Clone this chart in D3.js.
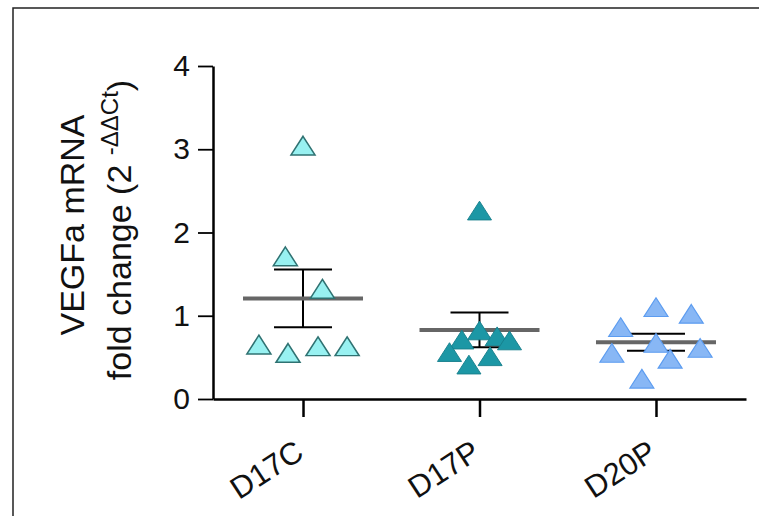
<!DOCTYPE html>
<html>
<head>
<meta charset="utf-8">
<script src="https://cdn.jsdelivr.net/npm/d3@7"></script>
<style>
  body { margin: 0; background: #fff; }
  svg { display: block; font-family: Arial, "Liberation Sans", sans-serif; }
</style>
</head>
<body>
<svg id="chart" width="759" height="516"></svg>
<script>
// groups along the x axis
const categories = ["D17C", "D17P", "D20P"];
const yTicks = [0, 1, 2, 3, 4];

// fold change values per animal
const d17c = [3.03, 1.70, 1.31, 0.64, 0.54, 0.62, 0.62];
const d17p = [2.25, 0.81, 0.70, 0.74, 0.69, 0.55, 0.50, 0.40];
const d20p = [1.09, 1.01, 0.85, 0.66, 0.54, 0.60, 0.47, 0.23];

// horizontal scatter of each point, in units of category step
const d17cJitter = [0, -0.10, 0.11, -0.25, -0.085, 0.085, 0.25];
const d17pJitter = [0, 0, -0.10, 0.10, 0.17, -0.17, 0.06, -0.06];
const d20pJitter = [0, 0.20, -0.20, 0, -0.25, 0.25, 0.08, -0.08];

const groups = [
    { name: "D17C", values: d17c, jitter: d17cJitter, fill: "#98F1F1", stroke: "#2F7272", sw: 1.6 },
    { name: "D17P", values: d17p, jitter: d17pJitter, fill: "#1C97A5", stroke: "#17808C", sw: 1 },
    { name: "D20P", values: d20p, jitter: d20pJitter, fill: "#88B7F5", stroke: "#5C9CF0", sw: 1.2 }
];

const svg = d3.select("#chart");

// outer frame (cropped at right and bottom)
svg.append("path")
    .attr("d", "M13,520 L13,8 L765,8")
    .attr("fill", "none")
    .attr("stroke", "#222")
    .attr("stroke-width", 1.5);

const x = d3.scalePoint().domain(categories).range([213, 746]).padding(0.51);
const y = d3.scaleLinear().domain([0, 4]).range([399, 66]);

// y axis
const yAxis = svg.append("g")
    .attr("transform", "translate(213,0)")
    .call(d3.axisLeft(y).tickValues(yTicks).tickFormat(d3.format("d"))
        .tickSize(15).tickPadding(8).tickSizeOuter(0));
yAxis.select(".domain").attr("stroke", "#000").attr("stroke-width", 2.5);
yAxis.selectAll(".tick line").attr("stroke", "#000").attr("stroke-width", 1.8);
yAxis.selectAll(".tick text").attr("font-size", 30).attr("fill", "#111");

// x axis
const xAxis = svg.append("g")
    .attr("transform", "translate(0,399)")
    .call(d3.axisBottom(x).tickSize(18).tickSizeOuter(0));
xAxis.select(".domain").attr("stroke", "#000").attr("stroke-width", 2.5);
xAxis.selectAll(".tick line").attr("stroke", "#000").attr("stroke-width", 2.5);
xAxis.selectAll(".tick text")
    .attr("font-size", 31)
    .attr("fill", "#111")
    .attr("text-anchor", "end")
    .attr("y", 0)
    .attr("dy", 0)
    .attr("transform", "translate(2,58) rotate(-33)");

// y axis title
svg.append("text")
    .attr("transform", "translate(84,225) rotate(-90)")
    .attr("text-anchor", "middle")
    .attr("font-size", 34)
    .attr("fill", "#111")
    .text("VEGFa mRNA");

const t2 = svg.append("text")
    .attr("transform", "translate(131,230) rotate(-90)")
    .attr("text-anchor", "middle")
    .attr("font-size", 34)
    .attr("fill", "#111");
t2.append("tspan").text("fold change (2 ");
t2.append("tspan").attr("font-size", 24).attr("dy", -13).text("-ΔΔCt");
t2.append("tspan").attr("dy", 13).text(")");

const tri = d3.symbol().type(d3.symbolTriangle).size(250);
const step = x.step();

groups.forEach((g) => {
    const cx = x(g.name);
    const mean = d3.mean(g.values);
    const sem = d3.deviation(g.values) / Math.sqrt(g.values.length);

    const layer = svg.append("g");

    // SEM bar
    layer.append("line")
        .attr("x1", cx).attr("x2", cx)
        .attr("y1", y(mean + sem)).attr("y2", y(mean - sem))
        .attr("stroke", "#000").attr("stroke-width", 2);
    [mean + sem, mean - sem].forEach((v) => {
        layer.append("line")
            .attr("x1", cx - 29).attr("x2", cx + 29)
            .attr("y1", y(v)).attr("y2", y(v))
            .attr("stroke", "#000").attr("stroke-width", 2);
    });

    // mean line
    layer.append("line")
        .attr("x1", cx - 60).attr("x2", cx + 60)
        .attr("y1", y(mean)).attr("y2", y(mean))
        .attr("stroke", "#666").attr("stroke-width", 4);

    // points
    layer.selectAll("path.pt")
        .data(g.values)
        .enter()
        .append("path")
        .attr("class", "pt")
        .attr("d", tri)
        .attr("transform", (d, i) => "translate(" + (cx + g.jitter[i] * step) + "," + (y(d) + 2) + ") scale(1,0.9)")
        .attr("fill", g.fill)
        .attr("stroke", g.stroke)
        .attr("stroke-width", g.sw);
});
</script>
</body>
</html>
